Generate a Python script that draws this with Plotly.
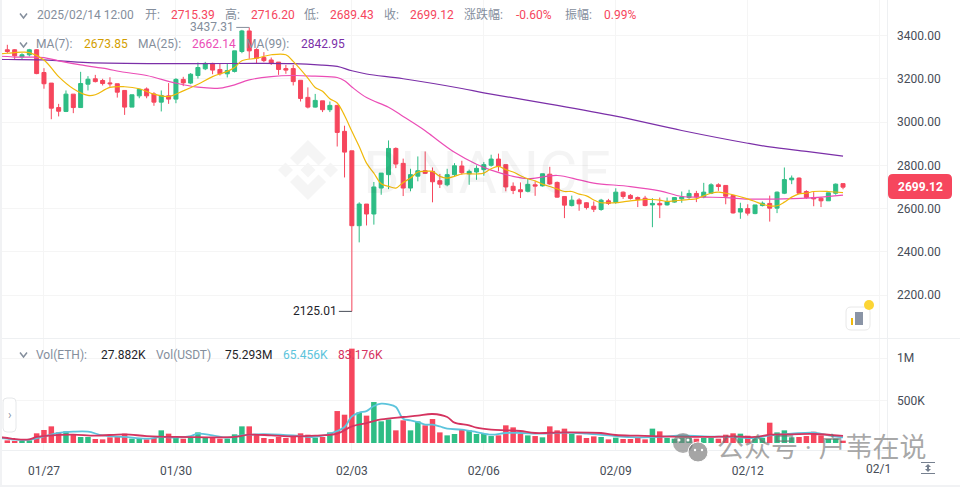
import pandas as pd
import plotly.graph_objects as go
from plotly.subplots import make_subplots

# ETH/USDT 4h candles
opens = [3334, 3334, 3301, 3311, 3334, 3229, 3180, 3067, 3049, 3129, 3067, 3175, 3200, 3192, 3181, 3177, 3146, 3069, 3121, 3153,
         3130, 3092, 3121, 3106, 3197, 3180, 3215, 3246, 3271, 3243, 3223, 3234, 3326, 3421, 3335, 3298, 3287, 3277, 3247, 3247,
         3193, 3114, 3069, 3098, 3057, 3077, 2957, 2867, 2521, 2621, 2575, 2695, 2757, 2878, 2809, 2695, 2750, 2775, 2772, 2729,
         2710, 2757, 2797, 2761, 2769, 2780, 2800, 2829, 2803, 2703, 2687, 2680, 2710, 2705, 2759, 2721, 2656, 2614, 2640, 2627,
         2611, 2596, 2636, 2628, 2676, 2661, 2651, 2648, 2617, 2624, 2617, 2630, 2645, 2651, 2670, 2654, 2671, 2710, 2707, 2660,
         2584, 2600, 2577, 2614, 2624, 2602, 2671, 2733, 2741, 2679, 2651, 2648, 2636, 2671, 2715.39]
closes = [3326, 3306, 3311, 3334, 3224, 3177, 3064, 3050, 3129, 3067, 3178, 3198, 3187, 3178, 3177, 3138, 3069, 3126, 3151, 3121,
          3092, 3123, 3106, 3197, 3181, 3221, 3252, 3271, 3240, 3223, 3238, 3329, 3421, 3329, 3295, 3284, 3272, 3243, 3240, 3187,
          3109, 3069, 3100, 3057, 3077, 2952, 2861, 2521, 2621, 2575, 2700, 2764, 2878, 2806, 2695, 2757, 2775, 2763, 2724, 2713,
          2757, 2798, 2766, 2772, 2786, 2803, 2829, 2795, 2700, 2684, 2678, 2712, 2704, 2761, 2714, 2653, 2616, 2639, 2622, 2605,
          2597, 2639, 2624, 2676, 2656, 2647, 2642, 2614, 2624, 2617, 2633, 2651, 2654, 2670, 2654, 2676, 2710, 2702, 2657, 2580,
          2600, 2579, 2617, 2625, 2602, 2676, 2734, 2741, 2671, 2651, 2645, 2636, 2673, 2713, 2699.12]
highs = [3357, 3337, 3318, 3338, 3337, 3249, 3180, 3084, 3146, 3129, 3232, 3212, 3218, 3200, 3207, 3177, 3146, 3126, 3152, 3160,
         3138, 3146, 3180, 3203, 3209, 3226, 3275, 3278, 3274, 3272, 3269, 3329, 3426, 3437.31, 3341, 3323, 3298, 3277, 3264, 3264,
         3193, 3160, 3130, 3098, 3095, 3077, 2983, 2867, 2629, 2621, 2723, 2764, 2915, 2883, 2831, 2784, 2841, 2864, 2790, 2760,
         2784, 2810, 2821, 2780, 2800, 2815, 2849, 2854, 2803, 2721, 2721, 2738, 2726, 2761, 2793, 2725, 2656, 2660, 2648, 2630,
         2633, 2645, 2645, 2694, 2679, 2667, 2656, 2659, 2648, 2651, 2651, 2651, 2679, 2687, 2682, 2719, 2717, 2717, 2707, 2660,
         2627, 2620, 2617, 2633, 2660, 2679, 2790, 2753, 2744, 2685, 2676, 2654, 2673, 2716, 2716.20]
lows = [3318, 3287, 3287, 3303, 3221, 3154, 3013, 3026, 3046, 3041, 3067, 3146, 3183, 3169, 3163, 3113, 3033, 3069, 3110, 3110,
        3075, 3049, 3084, 3087, 3166, 3175, 3201, 3240, 3221, 3215, 3206, 3229, 3318, 3292, 3272, 3277, 3264, 3218, 3223, 3169,
        3095, 3063, 3067, 3046, 3046, 2887, 2744, 2125.01, 2444, 2522, 2526, 2664, 2690, 2787, 2658, 2680, 2726, 2760, 2629, 2695,
        2703, 2749, 2757, 2710, 2733, 2752, 2794, 2772, 2680, 2667, 2649, 2675, 2659, 2702, 2710, 2651, 2556, 2610, 2590, 2596,
        2584, 2590, 2617, 2622, 2645, 2642, 2607, 2611, 2514, 2556, 2614, 2627, 2627, 2645, 2630, 2648, 2667, 2682, 2620, 2577,
        2553, 2568, 2574, 2610, 2540, 2579, 2667, 2713, 2668, 2645, 2611, 2607, 2636, 2664, 2689.43]
volumes_k = [31, 24, 24, 31, 114, 153, 196, 125, 137, 102, 71, 71, 47, 43, 67, 71, 110, 51, 51, 43,
             59, 149, 110, 63, 51, 67, 125, 63, 59, 51, 51, 102, 196, 196, 94, 59, 47, 71, 59, 71,
             114, 98, 63, 71, 125, 376, 333, 1110, 361, 322, 482, 255, 278, 149, 267, 149, 255, 208, 282, 125,
             90, 106, 157, 149, 106, 106, 82, 90, 208, 184, 106, 90, 82, 67, 196, 149, 169, 106, 90, 59,
             78, 71, 43, 63, 47, 47, 71, 43, 169, 137, 59, 51, 59, 59, 51, 59, 59, 51, 98, 114,
             110, 86, 59, 59, 239, 125, 149, 67, 71, 82, 133, 90, 47, 51, 27.882]

# moving averages: (candle number, value)
ma7_idx = [0, 1, 2, 3, 4, 6, 8, 10, 12, 13, 15, 17, 19, 21, 23, 25, 27, 29, 31, 32, 33, 35, 37, 39, 40, 42, 43, 44, 45, 46, 47, 48, 49, 50, 51,
           52, 53, 54, 55, 56, 57, 58, 59, 60, 61, 62, 63, 65, 66, 67, 68, 69, 70, 71, 72, 73, 74, 75, 76, 77, 78, 79, 80, 81, 82, 83, 84, 85,
           86, 87, 88, 89, 90, 91, 92, 93, 94, 95, 96, 97, 98, 99, 100, 102, 103, 104, 105, 106, 107, 108, 109, 110, 111, 113, 115]
ma7 = [3315, 3318, 3321, 3323, 3321, 3287, 3210, 3154, 3123, 3126, 3160, 3163, 3154, 3129, 3118, 3144, 3175, 3210, 3234, 3252, 3283, 3295, 3311, 3311, 3280, 3203, 3160, 3142, 3108, 3088, 3030, 2957, 2887, 2810, 2764,
       2715, 2703, 2695, 2721, 2741, 2769, 2772, 2772, 2749, 2741, 2749, 2760, 2760, 2764, 2784, 2795, 2780, 2769, 2752, 2738, 2728, 2713, 2702, 2691, 2679, 2679, 2667, 2659, 2640, 2627, 2627, 2627, 2631,
       2636, 2639, 2642, 2642, 2639, 2633, 2636, 2639, 2642, 2645, 2659, 2671, 2676, 2671, 2664, 2645, 2633, 2620, 2613, 2613, 2630, 2653, 2668, 2671, 2679, 2679, 2673.85]
ma25_idx = [0, 1, 2, 4, 6, 8, 11, 14, 17, 20, 24, 27, 30, 32, 34, 37, 40, 43, 46, 47, 48, 50, 53, 55, 58, 59, 62, 65, 67, 70, 72, 76, 79, 81, 86, 90, 93, 96, 99, 102, 105, 110, 115]
ma25 = [3304, 3303, 3300, 3300, 3298, 3283, 3264, 3249, 3230, 3215, 3180, 3161, 3157, 3172, 3195, 3210, 3215, 3212, 3206, 3191, 3162, 3113, 3068, 3026, 2960, 2934, 2860, 2805, 2778, 2749, 2738, 2753, 2733, 2718, 2702, 2682, 2656, 2653, 2651, 2644, 2644, 2648, 2662.14]
ma99_idx = [0, 1, 6, 12, 24, 40, 44, 46, 48, 50, 55, 63, 66, 75, 84, 93, 102, 105, 110, 115]
ma99 = [3290, 3289, 3287, 3275, 3270, 3270, 3263, 3257, 3237, 3222, 3200, 3155, 3135, 3083, 3027, 2961, 2902, 2885, 2864, 2842.95]

# volume averages, thousands
vol_fast_idx = [0, 1, 2, 4, 6, 8, 10, 12, 14, 17, 20, 22, 24, 26, 27, 29, 31, 33, 35, 37, 40, 43, 46, 47, 48, 49, 50, 51, 52, 53, 54, 55, 56, 57, 58, 59, 60, 61, 63, 65, 67, 69, 71, 74, 77, 80, 83, 86, 90, 93, 96, 100, 103, 105, 108, 111, 113, 115]
vol_fast = [59, 51, 39, 39, 78, 118, 133, 133, 90, 71, 51, 71, 63, 82, 110, 90, 63, 90, 102, 102, 90, 72, 141, 188, 314, 357, 376, 435, 463, 455, 424, 286, 267, 247, 216, 216, 196, 169, 157, 129, 98, 118, 118, 110, 122, 110, 90, 70, 71, 90, 78, 71, 59, 90, 110, 122, 90, 65.456]
vol_slow_idx = [0, 1, 2, 4, 5, 7, 10, 13, 17, 20, 24, 29, 32, 34, 37, 40, 43, 46, 48, 50, 52, 55, 57, 59, 61, 62, 64, 65, 67, 69, 71, 73, 77, 82, 84, 87, 90, 96, 100, 103, 105, 108, 111, 115]
vol_slow = [70, 59, 47, 43, 71, 90, 98, 86, 102, 82, 71, 67, 71, 98, 90, 78, 86, 110, 196, 235, 278, 306, 322, 341, 306, 239, 208, 180, 157, 149, 141, 118, 125, 118, 94, 86, 78, 71, 78, 71, 98, 102, 106, 83.176]

price_ticks = [2200, 2400, 2600, 2800, 3000, 3200, 3400]
vol_ticks = [500000, 1000000]
vol_tick_labels = ["500K", "1M"]
date_ticks = ["2025-01-27", "2025-01-30", "2025-02-03", "2025-02-06", "2025-02-09", "2025-02-12", "2025-02-15"]
date_labels = ["01/27", "01/30", "02/03", "02/06", "02/09", "02/12", ""]

UP = "#2EBD85"
DOWN = "#F6465D"
GRID = "#F5F5F5"
GREY = "#848E9C"
FONT = "Roboto, 'Noto Sans CJK SC', sans-serif"
W, H = 960, 487

# candle number 0 is the left edge of the plot, candles are 4h apart
times = pd.date_range("2025-01-26 00:00", periods=122, freq="4h")
candle_times = times[1:116]
vol_colors = [UP if c >= o else DOWN for o, c in zip(opens, closes)]


def px(x):
    return x / W


def py(y):
    return 1 - y / H


def poly(cx, cy, s, pts):
    d = " L".join(f"{px(cx + a * s):.4f},{py(cy + b * s):.4f}" for a, b in pts)
    return f"M{d} Z"


def box(x0, y0, x1, y1, **kw):
    return dict(type="rect", xref="paper", yref="paper", x0=px(x0), x1=px(x1), y0=py(y0), y1=py(y1), **kw)


def rounded(x0, y0, x1, y1, r, **kw):
    path = (f"M{px(x0 + r)},{py(y0)} L{px(x1 - r)},{py(y0)} Q{px(x1)},{py(y0)} {px(x1)},{py(y0 + r)} "
            f"L{px(x1)},{py(y1 - r)} Q{px(x1)},{py(y1)} {px(x1 - r)},{py(y1)} "
            f"L{px(x0 + r)},{py(y1)} Q{px(x0)},{py(y1)} {px(x0)},{py(y1 - r)} "
            f"L{px(x0)},{py(y0 + r)} Q{px(x0)},{py(y0)} {px(x0 + r)},{py(y0)} Z")
    return dict(type="path", xref="paper", yref="paper", path=path, **kw)


def circle(cx, cy, r, **kw):
    return dict(type="circle", xref="paper", yref="paper", x0=px(cx - r), x1=px(cx + r), y0=py(cy - r), y1=py(cy + r), **kw)


def caret(cx, cy):
    path = f"M{px(cx - 3.5)},{py(cy - 2.5)} L{px(cx)},{py(cy + 2)} L{px(cx + 3.5)},{py(cy - 2.5)}"
    return dict(type="path", xref="paper", yref="paper", path=path, line=dict(color=GREY, width=1.5))


def label(x, y, text, color=GREY, size=12, anchor="left", **kw):
    return dict(xref="paper", yref="paper", x=px(x), y=py(y), text=text, showarrow=False, xanchor=anchor, yanchor="middle",
                borderpad=0, font=dict(family=FONT, size=size, color=color), **kw)


fig = make_subplots(rows=2, cols=1, shared_xaxes=True)

fig.add_trace(go.Candlestick(
    x=candle_times, open=opens, high=highs, low=lows, close=closes,
    increasing=dict(line=dict(color=UP, width=1), fillcolor=UP),
    decreasing=dict(line=dict(color=DOWN, width=1), fillcolor=DOWN),
    whiskerwidth=0, showlegend=False), row=1, col=1)
for idx, vals, color in [(ma99_idx, ma99, "#7B2FA8"), (ma25_idx, ma25, "#EB4DB6"), (ma7_idx, ma7, "#F0B90B")]:
    fig.add_trace(go.Scatter(x=times[idx], y=vals, mode="lines", line=dict(color=color, width=1.2, shape="spline"),
                             showlegend=False), row=1, col=1)

fig.add_trace(go.Bar(x=candle_times, y=[v * 1000 for v in volumes_k], marker=dict(color=vol_colors, line_width=0),
                     showlegend=False), row=2, col=1)
for idx, vals, color in [(vol_fast_idx, vol_fast, "#5CC4DC"), (vol_slow_idx, vol_slow, "#D5335F")]:
    fig.add_trace(go.Scatter(x=times[idx], y=[v * 1000 for v in vals], mode="lines",
                             line=dict(color=color, width=1.8, shape="spline"), showlegend=False), row=2, col=1)

fig.update_layout(
    width=W, height=H, autosize=False, margin=dict(l=0, r=0, t=0, b=0),
    paper_bgcolor="white", plot_bgcolor="white", bargap=0.25, boxgap=0.22, hovermode=False,
    font=dict(family=FONT, size=12, color="#474D57"),
)
x_range = [times[0], times[121]]
fig.update_xaxes(range=x_range, domain=[0, px(887)], rangeslider_visible=False, showgrid=True, gridcolor=GRID, zeroline=False,
                 tickmode="array", tickvals=date_ticks, ticktext=date_labels, showline=False, ticks="")
fig.update_xaxes(showticklabels=False, row=1, col=1)
fig.update_xaxes(tickfont=dict(size=12, color="#474D57"), ticklabelstandoff=11, row=2, col=1)
fig.update_yaxes(side="right", showgrid=True, gridcolor=GRID, zeroline=False, ticks="", showline=False, ticklabelstandoff=9,
                 tickfont=dict(size=12, color="#474D57"))
fig.update_yaxes(domain=[py(338), 1], range=[2002, 3564], tickvals=price_ticks, tickformat=".2f", row=1, col=1)
fig.update_yaxes(domain=[py(451), py(339)], range=[-94000, 1223500], tickvals=vol_ticks, ticktext=vol_tick_labels, row=2, col=1)

chevron = [(-0.0, -1), (0.6, -0.4), (0.35, -0.15), (0, -0.5), (-0.35, -0.15), (-0.6, -0.4)]
shapes = [
    dict(type="path", xref="paper", yref="paper", path=poly(308, 170, 30, chevron), fillcolor="#F5F5F5", line_width=0, layer="below"),
    dict(type="path", xref="paper", yref="paper", path=poly(308, 170, 30, [(a, -b) for a, b in chevron]), fillcolor="#F5F5F5", line_width=0, layer="below"),
    dict(type="path", xref="paper", yref="paper", path=poly(308, 170, 30, [(0, -0.25), (0.25, 0), (0, 0.25), (-0.25, 0)]), fillcolor="#F5F5F5", line_width=0, layer="below"),
    dict(type="path", xref="paper", yref="paper", path=poly(285.5, 170, 30, [(0, -0.25), (0.25, 0), (0, 0.25), (-0.25, 0)]), fillcolor="#F5F5F5", line_width=0, layer="below"),
    dict(type="path", xref="paper", yref="paper", path=poly(330.5, 170, 30, [(0, -0.25), (0.25, 0), (0, 0.25), (-0.25, 0)]), fillcolor="#F5F5F5", line_width=0, layer="below"),
    # panel separators and price axis line
    box(0, 338, 960, 339, fillcolor="#EEF0F2", line_width=0),
    box(0, 450, 887, 451, fillcolor="#EEF0F2", line_width=0),
    box(887, 0, 888, 451, fillcolor="#EEF0F2", line_width=0),
    box(0, 0, 2, 487, fillcolor="#F1F2F4", line_width=0),
    box(0, 485, 960, 487, fillcolor="#F1F2F4", line_width=0),
    # last price tag
    rounded(888, 174, 952, 199, 5, fillcolor=DOWN, line_width=0),
    # note button with dot
    rounded(846, 307, 870, 330, 5, fillcolor="white", line=dict(color="#E8E8E8", width=1)),
    box(855, 312, 863, 325, fillcolor="#8A94A6", line_width=0),
    box(851, 318, 853, 325, fillcolor="#F0B90B", line_width=0),
    circle(869, 305, 5, fillcolor="#FCD535", line_width=0),
    # collapse handle on the volume panel
    rounded(3, 398, 16, 432, 4, fillcolor="white", line=dict(color="#E6E8EA", width=1)),
    # row carets
    caret(23.5, 16), caret(23.5, 45), caret(23.5, 355),
    # bottom right scale icon
    box(921, 462, 935, 463, fillcolor="#76808F", line_width=0),
    box(921, 473, 935, 474, fillcolor="#76808F", line_width=0),
    dict(type="path", xref="paper", yref="paper", path=poly(928, 468, 1, [(0, -4), (3, -1), (1, -1), (1, 1), (3, 1), (0, 4), (-3, 1), (-1, 1), (-1, -1), (-3, -1)]), fillcolor="#76808F", line_width=0),
    # wechat mark
    circle(683, 443, 10, fillcolor="rgba(120,120,120,0.6)", line_width=0),
    circle(698, 452, 10, fillcolor="rgba(105,105,105,0.6)", line=dict(color="white", width=1)),
    circle(679, 440, 1.5, fillcolor="white", line_width=0),
    circle(688, 440, 1.5, fillcolor="white", line_width=0),
    circle(695, 450, 1.2, fillcolor="white", line_width=0),
    circle(702, 450, 1.2, fillcolor="white", line_width=0),
]
fig.update_layout(shapes=shapes)

annotations = [
    label(362, 172, "BINANCE", color="rgba(0,0,0,0.045)", size=59),
    label(36, 15, "2025/02/14 12:00"),
    label(144, 15, "开:"), label(170, 15, "2715.39", DOWN),
    label(224, 15, "高:"), label(250, 15, "2716.20", DOWN),
    label(303, 15, "低:"), label(329, 15, "2689.43", DOWN),
    label(383, 15, "收:"), label(409, 15, "2699.12", DOWN),
    label(463, 15, "涨跌幅:"), label(515, 15, "-0.60%", DOWN),
    label(564, 15, "振幅:"), label(603, 15, "0.99%", DOWN),
    label(35, 44, "MA(7):"), label(83, 44, "2673.85", "#D39E00"),
    label(137, 44, "MA(25):"), label(191, 44, "2662.14", "#EB4DB6"),
    label(245, 44, "MA(99):"), label(300, 44, "2842.95", "#7B2FA8"),
    label(35, 355, "Vol(ETH):"), label(100, 355, "27.882K", "#1E2329"),
    label(155, 355, "Vol(USDT)"), label(224, 355, "75.293M", "#1E2329"),
    label(282, 355, "65.456K", "#5CC4DC"), label(337, 355, "83.176K", "#D5335F"),
    label(865, 469, "02/1", "#474D57"),
    label(920, 186.5, "<b>2699.12</b>", "white", anchor="center"),
    label(9.5, 415, "›", "#8A94A6", size=12, anchor="center"),
    label(716, 448, "公众号 · 户苇在说", "rgba(110,110,110,0.6)", size=27),
    dict(x=candle_times[33], y=3437.31, xref="x", yref="y", text="3437.31", ax=-13, ay=0, axref="pixel", ayref="pixel",
         showarrow=True, arrowhead=0, arrowwidth=1, arrowcolor=GREY, xanchor="right", yanchor="middle",
         font=dict(family=FONT, size=12, color=GREY)),
    dict(x=candle_times[47], y=2125.01, xref="x", yref="y", text="2125.01", ax=-13, ay=0, axref="pixel", ayref="pixel",
         showarrow=True, arrowhead=0, arrowwidth=1, arrowcolor="#474D57", xanchor="right", yanchor="middle",
         font=dict(family=FONT, size=12, color="#1E2329")),
]
fig.update_layout(annotations=annotations)

fig.write_html("out.html", config=dict(displayModeBar=False), post_script="document.body.style.margin='0';")
